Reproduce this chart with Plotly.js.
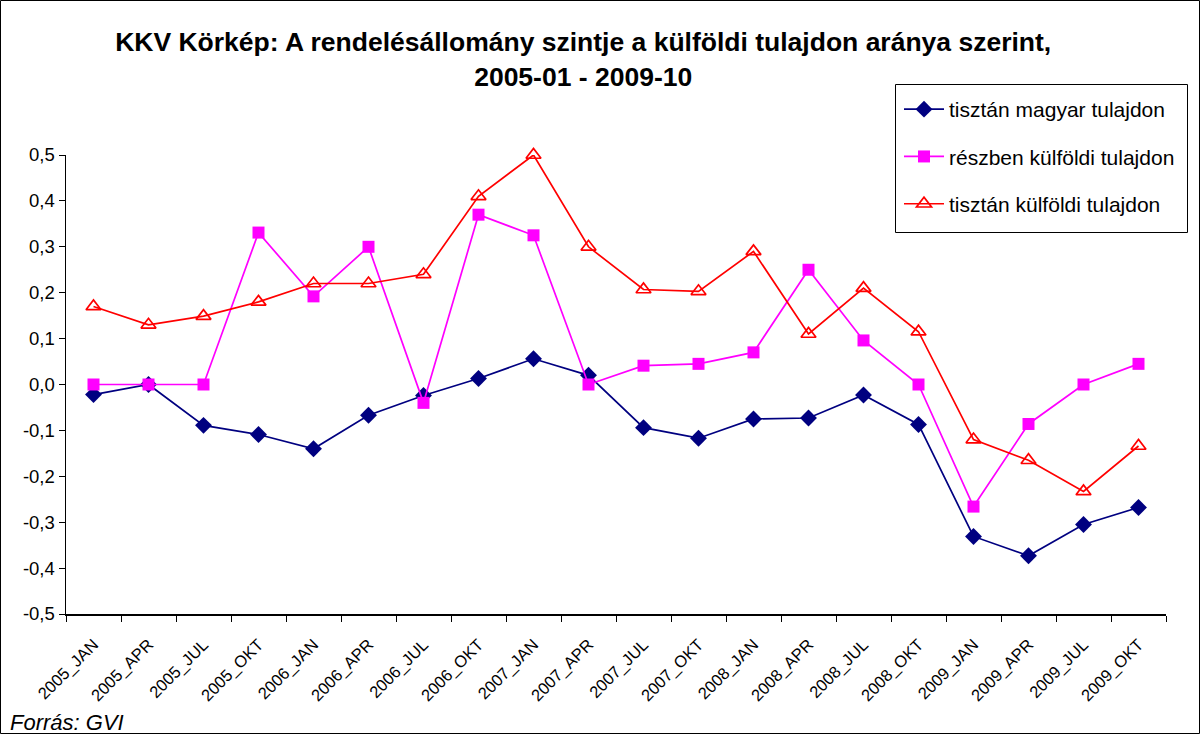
<!DOCTYPE html>
<html>
<head>
<meta charset="utf-8">
<script src="https://cdn.plot.ly/plotly-3.0.1.min.js"></script>
<style>
html,body{margin:0;padding:0;background:#fff;}
#chart{width:1200px;height:734px;}
</style>
</head>
<body>
<div id="chart"></div>
<script>
var categories = ["2005_JAN","2005_APR","2005_JUL","2005_OKT","2006_JAN","2006_APR","2006_JUL","2006_OKT","2007_JAN","2007_APR","2007_JUL","2007_OKT","2008_JAN","2008_APR","2008_JUL","2008_OKT","2009_JAN","2009_APR","2009_JUL","2009_OKT"];
var magyar = [-0.022, 0.0, -0.089, -0.109, -0.14, -0.067, -0.024, 0.013, 0.056, 0.02, -0.094, -0.117, -0.075, -0.073, -0.023, -0.087, -0.331, -0.373, -0.305, -0.268];
var reszben = [0.0, 0.0, 0.0, 0.331, 0.192, 0.30, -0.04, 0.37, 0.325, 0.0, 0.041, 0.045, 0.07, 0.25, 0.096, 0.0, -0.266, -0.086, 0.0, 0.045];
var kulfoldi = [0.17, 0.13, 0.149, 0.18, 0.22, 0.22, 0.24, 0.41, 0.5, 0.30, 0.207, 0.203, 0.29, 0.11, 0.21, 0.115, -0.12, -0.165, -0.233, -0.134];
var seriesNames = ["tisztán magyar tulajdon", "részben külföldi tulajdon", "tisztán külföldi tulajdon"];
var yTickVals = [-0.5, -0.4, -0.3, -0.2, -0.1, 0, 0.1, 0.2, 0.3, 0.4, 0.5];
var yTickText = ["-0,5", "-0,4", "-0,3", "-0,2", "-0,1", "0,0", "0,1", "0,2", "0,3", "0,4", "0,5"];
var titleText = "<b>KKV Körkép: A rendelésállomány szintje a külföldi tulajdon aránya szerint,</b><br><b>2005-01 - 2009-10</b>";
var sourceText = "Forrás: GVI";

var FONT = "Liberation Sans, Arial, sans-serif";

var traces = [
  {x: categories, y: magyar, name: seriesNames[0], type: "scatter", mode: "lines+markers",
   legendgroup: "a", cliponaxis: false,
   line: {color: "#000080", width: 1.7},
   marker: {symbol: "diamond", size: 13, color: "#000080"}},
  {x: categories, y: reszben, name: seriesNames[1], type: "scatter", mode: "lines+markers",
   legendgroup: "b", cliponaxis: false,
   line: {color: "#FF00FF", width: 1.7},
   marker: {symbol: "square", size: 12, color: "#FF00FF"}},
  {x: categories, y: kulfoldi, name: seriesNames[2], type: "scatter", mode: "lines+markers",
   legendgroup: "c", cliponaxis: false,
   line: {color: "#FF0000", width: 1.7},
   marker: {symbol: "triangle-up-open", size: 13, color: "#FF0000", line: {width: 1.7, color: "#FF0000"}}}
];

var L = 66, R = 34, T = 155, B = 120;
var PW = 1200 - L - R, PH = 734 - T - B;
function px(x) { return (x - L) / PW; }
function py(y) { return (734 - B - y) / PH; }

var layout = {
  width: 1200, height: 734,
  margin: {l: L, r: R, t: T, b: B, pad: 0},
  paper_bgcolor: "#ffffff",
  plot_bgcolor: "#ffffff",
  font: {family: FONT, color: "#000000"},
  showlegend: true,
  title: {text: titleText, font: {family: FONT, size: 26.5, color: "#000"}, x: 0.486, xanchor: "center", y: 0.93, yanchor: "top"},
  xaxis: {
    type: "category",
    range: [-0.5, categories.length - 0.5],
    showline: true, linecolor: "#000", linewidth: 1.5,
    ticks: "outside", ticklen: 6, tickcolor: "#000", tickwidth: 1,
    tickson: "boundaries",
    tickangle: -45,
    ticklabelstandoff: 13,
    tickfont: {family: FONT, size: 16.5, color: "#000"},
    showgrid: false, zeroline: false, fixedrange: true
  },
  yaxis: {
    range: [-0.5, 0.5],
    tickvals: yTickVals, ticktext: yTickText,
    showline: true, linecolor: "#000", linewidth: 1.5,
    ticks: "outside", ticklen: 6, tickcolor: "#000", tickwidth: 1,
    tickfont: {family: FONT, size: 18.5, color: "#000"},
    showgrid: false, zeroline: false, fixedrange: true
  },
  legend: {
    x: px(899), xanchor: "left",
    y: py(89), yanchor: "top",
    bgcolor: "rgba(0,0,0,0)", borderwidth: 0,
    font: {family: FONT, size: 21, color: "#000"},
    traceorder: "grouped", tracegroupgap: 17,
    itemwidth: 40
  },
  shapes: [{
    type: "rect", xref: "paper", yref: "paper",
    x0: px(0.5), x1: px(1199.5),
    y0: py(733.5), y1: py(0.5),
    line: {color: "#000", width: 1}, fillcolor: "rgba(0,0,0,0)"
  }, {
    type: "rect", xref: "paper", yref: "paper", layer: "above",
    x0: px(895.5), x1: px(1187.5),
    y0: py(232.5), y1: py(84.5),
    line: {color: "#000", width: 1}, fillcolor: "#ffffff"
  }],
  annotations: [{
    text: sourceText, xref: "paper", yref: "paper",
    x: px(8), xanchor: "left",
    y: py(722), yanchor: "middle",
    showarrow: false,
    font: {family: FONT, size: 22, color: "#000", style: "italic"}
  }]
};

Plotly.newPlot("chart", traces, layout, {staticPlot: true, displayModeBar: false});
</script>
</body>
</html>
